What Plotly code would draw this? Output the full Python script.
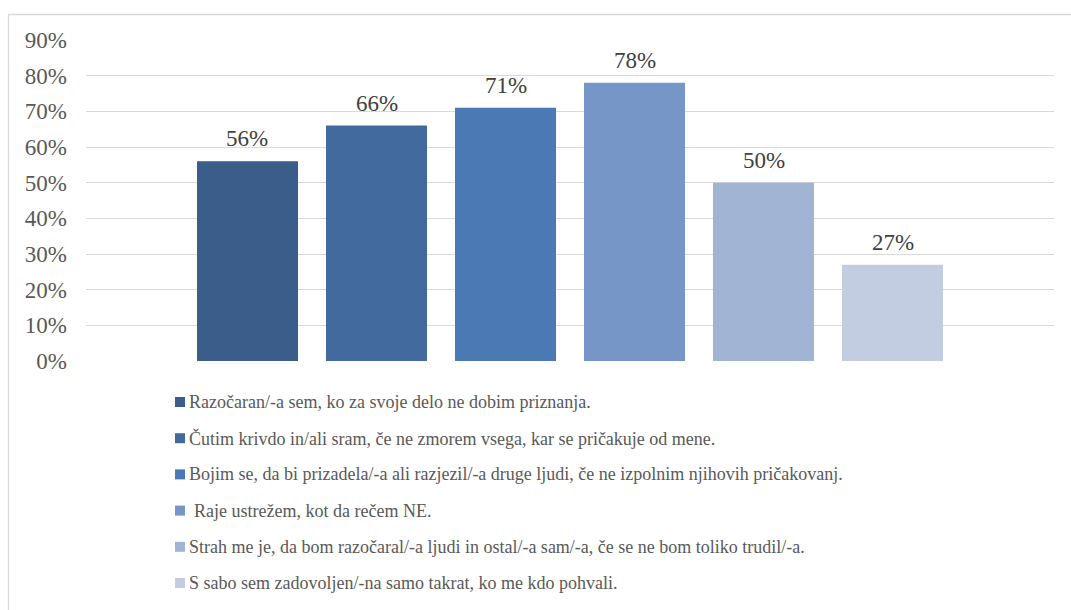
import plotly.graph_objects as go

# Survey statements (series) and share of respondents who agreed
statements = [
    "Razočaran/-a sem, ko za svoje delo ne dobim priznanja.",
    "Čutim krivdo in/ali sram, če ne zmorem vsega, kar se pričakuje od mene.",
    "Bojim se, da bi prizadela/-a ali razjezil/-a druge ljudi, če ne izpolnim njihovih pričakovanj.",
    "Raje ustrežem, kot da rečem NE.",
    "Strah me je, da bom razočaral/-a ljudi in ostal/-a sam/-a, če se ne bom toliko trudil/-a.",
    "S sabo sem zadovoljen/-na samo takrat, ko me kdo pohvali.",
]
indents = [0, 0, 0, 5, 0, 0]
shares = [0.56, 0.66, 0.71, 0.78, 0.50, 0.27]
colors = ["#3A5D89", "#436A9F", "#4A79B4", "#7596C6", "#A2B4D4", "#C2CDE2"]

y_ticks = [0, 0.1, 0.2, 0.3, 0.4, 0.5, 0.6, 0.7, 0.8, 0.9]
y_labels = ["0%", "10%", "20%", "30%", "40%", "50%", "60%", "70%", "80%", "90%"]

FONT = "Tinos"
W, H = 1071, 610
M_L, M_R, M_T, M_B = 86, 17, 40, 249
BARGAP, GROUPGAP = 0.2004, 0.217

fig = go.Figure()
for name, val, col in zip(statements, shares, colors):
    fig.add_trace(go.Bar(
        x=[0], y=[val], name=name,
        marker=dict(color=col, line=dict(width=0)),
        showlegend=False, hoverinfo="y",
    ))

# Value labels above each bar, positioned at the bar's group offset
n = len(shares)
slot = (1 - BARGAP) / n
annotations = []
for i, val in enumerate(shares):
    annotations.append(dict(
        x=(i - (n - 1) / 2) * slot, y=val, xref="x", yref="y",
        text=f"{round(val * 100)}%", showarrow=False,
        xanchor="center", yanchor="bottom", yshift=8,
        font=dict(family=FONT, size=23, color="#404040"),
    ))

# Legend rows drawn below the plot
pw = W - M_L - M_R
ph = H - M_T - M_B
px = lambda p: (p - M_L) / pw
py = lambda p: (H - M_B - p) / ph
shapes = []
row0, row_step = 402, 36.2
for i, (name, col) in enumerate(zip(statements, colors)):
    ypix = row0 + i * row_step
    shapes.append(dict(
        type="rect", xref="paper", yref="paper",
        x0=px(175), x1=px(185), y0=py(ypix + 5), y1=py(ypix - 5),
        fillcolor=col, line=dict(width=0),
    ))
    annotations.append(dict(
        x=px(187 + indents[i]), y=py(ypix), xref="paper", yref="paper",
        text=name, showarrow=False, xanchor="left", yanchor="middle",
        font=dict(family=FONT, size=18, color="#595959"),
    ))

# Outer chart frame
shapes.append(dict(
    type="rect", xref="paper", yref="paper",
    x0=px(8.5), x1=px(W + 5), y0=py(H + 5), y1=py(14.5),
    line=dict(color="#D9D9D9", width=1.3),
))

fig.update_layout(
    template="none",
    width=W, height=H,
    margin=dict(l=M_L, r=M_R, t=M_T, b=M_B),
    paper_bgcolor="white", plot_bgcolor="white",
    barmode="group", bargap=BARGAP, bargroupgap=GROUPGAP,
    font=dict(family=FONT, size=18, color="#595959"),
    xaxis=dict(range=[-0.5, 0.5], showticklabels=False, showgrid=False,
               zeroline=False, showline=False, ticks=""),
    yaxis=dict(range=[0, 0.9], tickvals=y_ticks, ticktext=y_labels,
               showgrid=True, gridcolor="#D9D9D9", gridwidth=1.3,
               zeroline=False, showline=False, ticks="", ticklabelstandoff=18,
               tickfont=dict(family=FONT, size=23, color="#595959")),
    annotations=annotations,
    shapes=shapes,
)

fig.write_html("out.html")
